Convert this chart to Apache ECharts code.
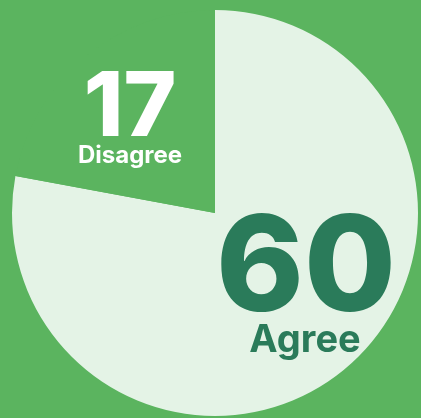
<!DOCTYPE html>
<html><head><meta charset="utf-8">
<script src="https://cdn.jsdelivr.net/npm/echarts@6/dist/echarts.min.js"></script>
<style>html,body{margin:0;padding:0;background:#5bb45f;}#c{width:421px;height:418px;}</style>
</head><body><div id="c"></div>
<script>
const categories = ['Agree', 'Disagree'];
const values = [60, 17];

const chart = echarts.init(document.getElementById('c'), null, {renderer: 'canvas'});
const bg = '#5bb45f';
chart.setOption({
  backgroundColor: bg,
  animation: false,
  series: [{
    type: 'pie',
    center: [215, 213],
    radius: [0, 203],
    startAngle: 90,
    clockwise: true,
    silent: true,
    label: {show: false},
    labelLine: {show: false},
    itemStyle: {borderWidth: 0},
    data: categories.map((c, i) => ({
      name: c, value: values[i],
      itemStyle: {color: i === 0 ? '#e4f3e6' : bg}
    }))
  }],
  graphic: {
    elements: [
      {type: 'text', x: 130, y: 109, z: 100, style: {text: String(values[1]), fill: '#ffffff', fontFamily: 'Inter', fontWeight: 800, fontSize: 90, align: 'center', verticalAlign: 'middle'}},
      {type: 'text', x: 130, y: 156, z: 100, style: {text: categories[1], fill: '#ffffff', fontFamily: 'Inter', fontWeight: 700, fontSize: 24, align: 'center', verticalAlign: 'middle'}},
      {type: 'text', x: 306, y: 271, z: 100, style: {text: String(values[0]), fill: '#2a7b5a', fontFamily: 'Inter', fontWeight: 800, fontSize: 133, align: 'center', verticalAlign: 'middle'}},
      {type: 'text', x: 305, y: 341, z: 100, style: {text: categories[0], fill: '#2a7b5a', fontFamily: 'Inter', fontWeight: 700, fontSize: 38, align: 'center', verticalAlign: 'middle'}}
    ]
  }
});
</script></body></html>
